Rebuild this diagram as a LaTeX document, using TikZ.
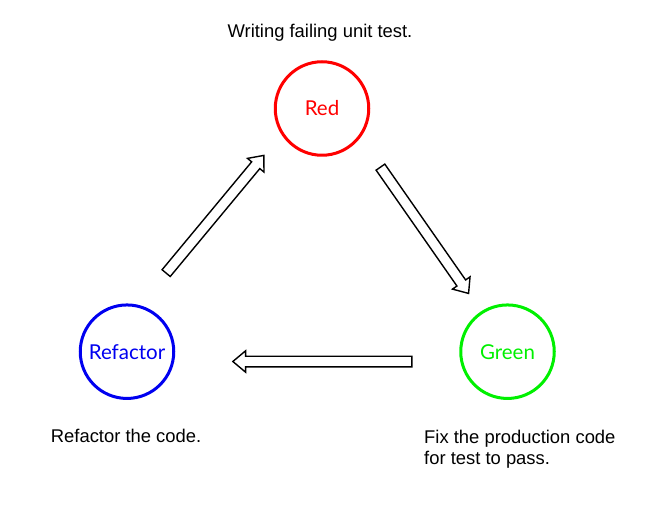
\documentclass[tikz,border=0pt]{standalone}
\usepackage{fontspec}
\setmainfont{Liberation Sans}
\newfontfamily\phasefont{Lato}
\usepackage{xcolor}
\usepackage{tikz}
\usetikzlibrary{positioning,shapes.arrows,calc}
\definecolor{tddred}{RGB}{255,0,0}
\definecolor{tddgreen}{RGB}{0,240,0}
\definecolor{tddblue}{RGB}{0,0,240}
\tikzset{
	phase/.style = {
			circle,
			draw,
			line width      = 3pt,
			minimum size    = 93.5pt,
			inner sep       = 0pt,
			font            = \phasefont\fontsize{20.5}{24}\selectfont,
		},
	blockarrow/.style = {
			single arrow,
			draw            = black,
			line width      = 1.4pt,
			fill            = white,
			inner xsep      = 0pt,
			inner ysep      = 4.6pt,
			single arrow head extend = 5.4pt,
			single arrow tip angle   = 80,
			single arrow head indent = 0pt,
		},
	note/.style = {
			font            = \fontsize{18.4}{21.8}\selectfont,
			inner sep       = 0pt,
			align           = left,
		}
}

\begin{document}
\begin{tikzpicture}[x=1pt,y=1pt]
	\useasboundingbox (0,0) rectangle (668,514);
	\node[phase, draw=tddred, text=tddred] (red) at (322,405.5) {Red};
	\node[phase, draw=tddgreen, text=tddgreen] (green) at (507.5,162.3) {Green};
	\node[phase, draw=tddblue, text=tddblue] (refactor) at (127,162.3) {Refactor};
	% the three steps
	\node[note, anchor=base] (redtext) at (320,476.7) {Writing failing unit test.};
	\node[note, anchor=base west] (greentext) at (424,49.2) {Fix the production code\\for test to pass.};
	\node[note, anchor=base west] (refactortext) at (50.7,71.3) {Refactor the code.};
	% cycle
	\node[blockarrow, rotate=50.3, minimum height=153pt] (toRed) at ($(refactor)+(86,135)$) {};
	\node[blockarrow, rotate=-55.1, minimum height=154pt] (toGreen) at ($(green)+(-84.8,124)$) {};
	\node[blockarrow, rotate=180, minimum height=179pt] (toRefactor) at ($(green)+(-182,-9.8)$) {};
\end{tikzpicture}
\end{document}
